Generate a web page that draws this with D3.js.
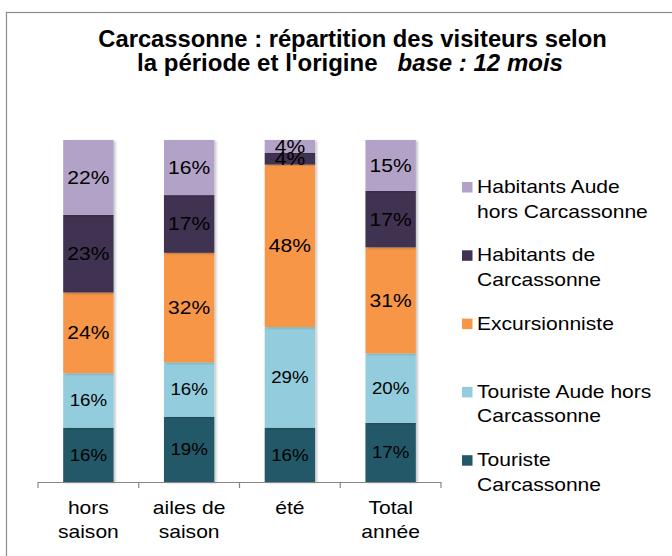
<!DOCTYPE html>
<html>
<head>
<meta charset="utf-8">
<script src="https://cdn.jsdelivr.net/npm/d3@7"></script>
<style>
  body { margin: 0; background: #fff; }
  text { font-family: "Liberation Sans", Arial, sans-serif; }
</style>
</head>
<body>
<script>
var w = 672;
var h = 556;
var sx = 1.17; // horizontal text stretch

var categories = ["hors saison", "ailes de saison", "été", "Total année"];
var categoryLines = [["hors", "saison"], ["ailes de", "saison"], ["été"], ["Total", "année"]];
var seriesNames = ["Touriste Carcassonne", "Touriste Aude hors Carcassonne", "Excursionniste",
                   "Habitants de Carcassonne", "Habitants Aude hors Carcassonne"];
var legendLines = [["Touriste", "Carcassonne"], ["Touriste Aude hors", "Carcassonne"], ["Excursionniste"],
                   ["Habitants de", "Carcassonne"], ["Habitants Aude", "hors Carcassonne"]];
var colors = ["#215968", "#93CDDD", "#F79646", "#403151", "#B3A2C7"];

var touristeCarcassonne = [15.9, 19.1, 15.9, 17.3];
var touristeAude = [15.9, 15.9, 29.4, 20.3];
var excursionniste = [23.6, 32.0, 47.5, 31.0];
var habitantsCarcassonne = [22.7, 16.9, 3.5, 16.5];
var habitantsAude = [21.9, 16.1, 3.7, 14.9];
var seriesValues = [touristeCarcassonne, touristeAude, excursionniste, habitantsCarcassonne, habitantsAude];

var table = categories.map(function(c, i) {
    var row = {cat: c};
    seriesNames.forEach(function(s, j) { row[s] = seriesValues[j][i]; });
    return row;
});

var svg = d3.select("body")
    .append("svg")
    .attr("width", w)
    .attr("height", h);

var defs = svg.append("defs");
defs.append("filter").attr("id", "shadow")
    .attr("x", "-20%").attr("y", "-5%").attr("width", "150%").attr("height", "115%")
    .append("feDropShadow")
    .attr("dx", 2).attr("dy", 1).attr("stdDeviation", 1.2)
    .attr("flood-color", "#000").attr("flood-opacity", 0.22);

// frame
svg.append("rect")
    .attr("x", 6.5).attr("y", 12.5)
    .attr("width", 720).attr("height", 620)
    .attr("fill", "none")
    .attr("stroke", "#8c8c8c")
    .attr("stroke-width", 1.2);

// title
var t1 = svg.append("text")
    .attr("text-anchor", "middle")
    .attr("font-size", 23)
    .attr("font-weight", "bold")
    .text("Carcassonne : répartition des visiteurs selon");
var t2 = svg.append("text")
    .attr("text-anchor", "middle")
    .attr("font-size", 23)
    .attr("font-weight", "bold");
t2.append("tspan").text("la période et l'origine");
t2.append("tspan").attr("font-style", "italic").attr("xml:space", "preserve").text("   base : 12 mois");

function fit(sel, cx, y, target) {
    var bw = sel.node().getBBox().width;
    sel.attr("transform", "translate(" + cx + "," + y + ") scale(" + (target / bw) + ",1)");
}
fit(t1, 352.5, 46.5, 509);
fit(t2, 350, 71, 426);

var x = d3.scaleBand()
    .domain(categories)
    .range([38, 441])
    .paddingInner(0.5)
    .paddingOuter(0.25);

var y = d3.scaleLinear()
    .domain([0, 1])
    .range([482, 140]);

var stack = d3.stack()
    .keys(seriesNames)
    .offset(d3.stackOffsetExpand);
var stacked = stack(table);

var layers = svg.selectAll("g.layer")
    .data(stacked)
    .enter()
    .append("g")
    .attr("class", "layer")
    .attr("fill", function(d, i) { return colors[i]; });

layers.selectAll("rect")
    .data(function(d) { return d; })
    .enter()
    .append("rect")
    .attr("x", function(d) { return x(d.data.cat); })
    .attr("y", function(d) { return y(d[1]); })
    .attr("width", x.bandwidth())
    .attr("height", function(d) { return y(d[0]) - y(d[1]); })
    .attr("filter", "url(#shadow)");

// labels
stacked.forEach(function(layer, li) {
    var fs = li < 2 ? 16 : 18;
    svg.append("g").selectAll("text")
        .data(layer)
        .enter()
        .append("text")
        .attr("text-anchor", "middle")
        .attr("font-size", fs)
        .attr("fill", "#000")
        .attr("transform", function(d) {
            var cx = x(d.data.cat) + x.bandwidth() / 2;
            var cy = (y(d[0]) + y(d[1])) / 2 + fs * 0.36;
            return "translate(" + cx + "," + cy + ") scale(" + sx + ",1)";
        })
        .text(function(d) { return Math.round(d.data[seriesNames[li]]) + "%"; });
});

// axis
var ax = svg.append("g").attr("stroke", "#868686").attr("stroke-width", 1.2);
ax.append("line")
    .attr("x1", x.range()[0]).attr("x2", x.range()[1])
    .attr("y1", 482.5).attr("y2", 482.5);
ax.selectAll("line.tick")
    .data(d3.range(categories.length + 1))
    .enter()
    .append("line")
    .attr("class", "tick")
    .attr("x1", function(i) { return x.range()[0] + i * x.step(); })
    .attr("x2", function(i) { return x.range()[0] + i * x.step(); })
    .attr("y1", 482).attr("y2", 488);

categoryLines.forEach(function(lines, i) {
    var cx = x(categories[i]) + x.bandwidth() / 2;
    lines.forEach(function(l, k) {
        svg.append("text")
            .attr("text-anchor", "middle")
            .attr("font-size", 18)
            .attr("fill", "#000")
            .attr("transform", "translate(" + cx + "," + (514 + k * 24) + ") scale(" + sx + ",1)")
            .text(l);
    });
});

// legend (top item = last series)
var legendOrder = d3.range(seriesNames.length).reverse();
legendOrder.forEach(function(si, k) {
    var by = 193 + k * 68.3;
    svg.append("rect")
        .attr("x", 462).attr("y", by - 11)
        .attr("width", 10.5).attr("height", 10.5)
        .attr("fill", colors[si]);
    legendLines[si].forEach(function(l, j) {
        svg.append("text")
            .attr("font-size", 18)
            .attr("fill", "#000")
            .attr("transform", "translate(477," + (by + j * 24.5) + ") scale(" + sx + ",1)")
            .text(l);
    });
});
</script>
</body>
</html>
